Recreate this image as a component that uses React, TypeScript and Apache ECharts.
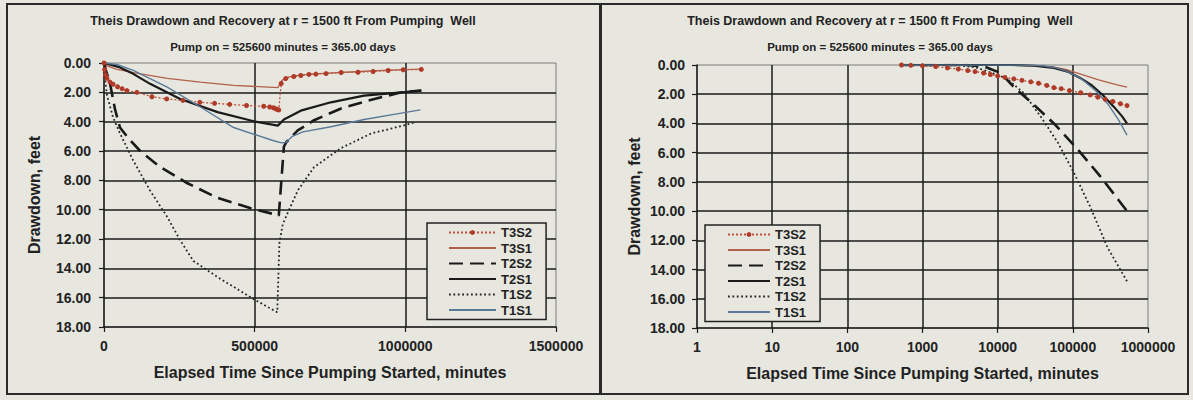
import React, { useEffect, useRef } from "react";
import * as echarts from "echarts";

const FONT = "'Liberation Sans', Arial, sans-serif";

const seriesNames = ["T3S2", "T3S1", "T2S2", "T2S1", "T1S2", "T1S1"];
const titleText = "Theis Drawdown and Recovery at r = 1500 ft From Pumping  Well";
const subtitleText = "Pump on = 525600 minutes = 365.00 days";
const xAxisTitle = "Elapsed Time Since Pumping Started, minutes";
const yAxisTitle = "Drawdown, feet";

// Left chart (linear time, minutes) : [time, drawdown ft]
const linT3S2: [number, number][] = [
  [0, 0], [2000, 0.45], [5000, 0.8], [10000, 1.05], [20000, 1.3], [30000, 1.45], [45000, 1.62],
  [60000, 1.75], [76000, 1.88], [109000, 2.0], [159000, 2.3], [208000, 2.45], [262000, 2.55],
  [318000, 2.68], [367000, 2.75], [417000, 2.82], [473000, 2.9], [530000, 2.95], [550000, 3.0],
  [562000, 3.05], [570000, 3.12], [576000, 3.18], [580000, 3.2], [588000, 1.4], [603000, 1.06],
  [630000, 0.92], [653000, 0.85], [680000, 0.78], [703000, 0.76], [737000, 0.72], [787000, 0.65],
  [843000, 0.63], [893000, 0.58], [943000, 0.51], [993000, 0.46], [1053000, 0.44],
];
const linT3S1: [number, number][] = [
  [0, 0], [10000, 0.2], [40000, 0.42], [97000, 0.65], [210000, 1.05], [320000, 1.3], [430000, 1.52],
  [577000, 1.68], [590000, 1.2], [605000, 0.98], [650000, 0.82], [700000, 0.74], [800000, 0.63],
  [900000, 0.53], [1000000, 0.45], [1053000, 0.42],
];
const linT2S2: [number, number][] = [
  [0, 0], [8000, 0.6], [20000, 1.4], [37000, 3.2], [53000, 4.4], [80000, 5.1], [120000, 6.0],
  [187000, 7.1], [277000, 8.2], [377000, 9.2], [487000, 9.9], [563000, 10.3], [580000, 10.4],
  [597000, 5.7], [605000, 5.4], [643000, 4.6], [697000, 3.9], [787000, 3.1], [897000, 2.45],
  [987000, 2.0], [1053000, 1.88],
];
const linT2S1: [number, number][] = [
  [0, 0], [53000, 0.3], [97000, 0.74], [153000, 1.42], [253000, 2.45], [377000, 3.35], [497000, 3.97],
  [577000, 4.27], [597000, 3.85], [653000, 3.25], [753000, 2.68], [863000, 2.22], [987000, 2.0],
  [1053000, 1.88],
];
const linT1S2: [number, number][] = [
  [0, 0], [3000, 1.0], [10000, 2.2], [30000, 3.7], [53000, 4.8], [97000, 6.65], [153000, 8.7],
  [210000, 10.5], [253000, 12.1], [297000, 13.5], [377000, 14.6], [497000, 16.1], [575000, 17.0],
  [582000, 12.3], [593000, 11.0], [610000, 10.2], [643000, 8.7], [697000, 7.1], [787000, 5.8],
  [887000, 4.8], [987000, 4.3], [1030000, 4.05],
];
const linT1S1: [number, number][] = [
  [0, 0], [43000, 0.1], [97000, 0.5], [210000, 1.65], [320000, 3.0], [430000, 4.4], [563000, 5.3],
  [590000, 5.45], [605000, 5.4], [625000, 5.0], [660000, 4.7], [753000, 4.35], [863000, 3.85],
  [977000, 3.45], [1050000, 3.2],
];

// Right chart (log time, minutes) : [time, drawdown ft]
const logT3S2: [number, number][] = [
  [525.6, 0], [700, 0.02], [1000, 0.05], [1500, 0.1], [2150, 0.2], [3000, 0.28], [4000, 0.38],
  [5000, 0.45], [6500, 0.55], [8000, 0.65], [10000, 0.75], [12500, 0.85], [16400, 0.95],
  [21000, 1.05], [27600, 1.15], [35000, 1.25], [45000, 1.4], [56000, 1.55], [70000, 1.62],
  [90000, 1.75], [127000, 1.9], [170000, 2.05], [215000, 2.2], [270000, 2.35], [340000, 2.5],
  [430000, 2.65], [525600, 2.78],
];
const logT3S1: [number, number][] = [
  [525.6, 0], [10000, 0], [20000, 0.02], [35000, 0.06], [56000, 0.15], [80000, 0.3], [100000, 0.45],
  [150000, 0.75], [215000, 1.0], [300000, 1.2], [400000, 1.38], [525600, 1.52],
];
const logT2S2: [number, number][] = [
  [525.6, 0], [4000, 0], [7000, 0.15], [11000, 0.55], [16400, 1.5], [30000, 2.7], [56000, 4.0],
  [117000, 5.8], [222000, 7.5], [400000, 9.2], [525600, 10.0],
];
const logT2S1: [number, number][] = [
  [525.6, 0], [15000, 0], [30000, 0.05], [56000, 0.2], [85000, 0.45], [127000, 0.9], [180000, 1.4],
  [250000, 2.05], [350000, 2.85], [450000, 3.5], [525600, 4.0],
];
const logT1S2: [number, number][] = [
  [525.6, 0], [3000, 0.02], [5000, 0.15], [8000, 0.5], [13000, 0.9], [22000, 1.9], [37000, 3.5],
  [63000, 5.3], [104000, 7.4], [170000, 9.7], [290000, 12.5], [525600, 14.8],
];
const logT1S1: [number, number][] = [
  [525.6, 0], [20000, 0], [40000, 0.05], [60000, 0.2], [85000, 0.45], [127000, 0.9], [200000, 1.75],
  [290000, 2.65], [400000, 3.7], [525600, 4.8],
];

const linData = [linT3S2, linT3S1, linT2S2, linT2S1, linT1S2, linT1S1];
const logData = [logT3S2, logT3S1, logT2S2, logT2S1, logT1S2, logT1S1];

const styles: Record<string, any> = {
  T3S2: { lineStyle: { color: "#c0503a", width: 1.3, type: [2, 2] }, symbol: "circle", symbolSize: 5, itemStyle: { color: "#b03a28" } },
  T3S1: { lineStyle: { color: "#b3604a", width: 1.3 }, symbol: "none", itemStyle: { color: "#b3604a" } },
  T2S2: { lineStyle: { color: "#1a1a1a", width: 2.6, type: [14, 7] }, symbol: "none", itemStyle: { color: "#1a1a1a" } },
  T2S1: { lineStyle: { color: "#1a1a1a", width: 2.2 }, symbol: "none", itemStyle: { color: "#1a1a1a" } },
  T1S2: { lineStyle: { color: "#262626", width: 1.8, type: [1.8, 2.6] }, symbol: "none", itemStyle: { color: "#262626" } },
  T1S1: { lineStyle: { color: "#5a7a98", width: 1.4 }, symbol: "none", itemStyle: { color: "#5a7a98" } },
};

const TXT = "#222222";
const GRID_LINE = "#1a1a1a";

function yAxisCfg(gridIndex: number, margin: number, nameGap: number) {
  return {
    type: "value",
    gridIndex,
    inverse: true,
    min: 0,
    max: 18,
    interval: 2,
    name: yAxisTitle,
    nameLocation: "middle",
    nameRotate: 90,
    nameGap,
    nameTextStyle: { fontFamily: FONT, fontSize: 16, fontWeight: "bold", color: TXT },
    axisLine: { show: true, onZero: false, lineStyle: { color: GRID_LINE, width: 1.5 } },
    axisTick: { show: true, length: 5, lineStyle: { color: GRID_LINE, width: 1.2 } },
    axisLabel: { fontFamily: FONT, fontSize: 14, fontWeight: "bold", color: TXT, margin, formatter: (v: number) => v.toFixed(2) },
    splitLine: { show: true, showMinLine: false, showMaxLine: false, lineStyle: { color: GRID_LINE, width: 1.5 } },
  };
}

function xCommon() {
  return {
    name: xAxisTitle,
    nameLocation: "middle",
    nameGap: 37,
    nameTextStyle: { fontFamily: FONT, fontSize: 16, fontWeight: "bold", color: TXT },
    axisLine: { show: true, onZero: false, lineStyle: { color: GRID_LINE, width: 1.5 } },
    axisTick: { show: true, length: 5, lineStyle: { color: GRID_LINE, width: 1.2 } },
    axisLabel: { fontFamily: FONT, fontSize: 14, fontWeight: "bold", color: TXT, margin: 12, formatter: (v: number) => String(Math.round(v)) },
    splitLine: { show: true, showMinLine: false, showMaxLine: false, lineStyle: { color: GRID_LINE, width: 1.5 } },
  };
}

function legendCfg(left: number, top: number, itemWidth: number, padLeft: number) {
  return {
    left,
    top,
    orient: "vertical",
    itemWidth,
    itemHeight: 6,
    itemGap: 2.5,
    padding: [3, 14, 3, padLeft],
    borderColor: "#222",
    borderWidth: 1.5,
    borderRadius: 0,
    backgroundColor: "#e7e7e0",
    selectedMode: false,
    textStyle: { fontFamily: FONT, fontSize: 13, lineHeight: 13, fontWeight: "bold", color: TXT },
    data: seriesNames.map((n) =>
      n === "T3S2"
        ? { name: n }
        : { name: n, itemStyle: { color: "rgba(0,0,0,0)", borderColor: "rgba(0,0,0,0)", borderWidth: 0 } }
    ),
  };
}

function titleTexts(cx: number) {
  return [
    { type: "text", x: cx, y: 21, silent: true, style: { text: titleText, align: "center", verticalAlign: "middle", fontFamily: FONT, fontSize: 12.5, fontWeight: "bold", fill: TXT } },
    { type: "text", x: cx, y: 47, silent: true, style: { text: subtitleText, align: "center", verticalAlign: "middle", fontFamily: FONT, fontSize: 11.5, fontWeight: "bold", fill: TXT } },
  ];
}

export default function App() {
  const ref = useRef<HTMLDivElement>(null);
  useEffect(() => {
    if (!ref.current) return;
    const chart = echarts.init(ref.current, null, { renderer: "svg" });
    const series: any[] = [];
    seriesNames.forEach((n, i) => {
      series.push({ type: "line", name: n, xAxisIndex: 0, yAxisIndex: 0, data: linData[i], ...styles[n], showSymbol: n === "T3S2" });
    });
    seriesNames.forEach((n, i) => {
      series.push({ type: "line", name: n, xAxisIndex: 1, yAxisIndex: 1, data: logData[i], ...styles[n], showSymbol: n === "T3S2" });
    });
    chart.setOption({
      animation: false,
      backgroundColor: "#e7e7e0",
      textStyle: { fontFamily: FONT },
      grid: [
        { left: 104, top: 63, width: 452, height: 264, show: true, borderColor: "#7a7a7a", borderWidth: 1, backgroundColor: "transparent" },
        { left: 697, top: 65, width: 451, height: 263, show: true, borderColor: "#7a7a7a", borderWidth: 1, backgroundColor: "transparent" },
      ],
      xAxis: [
        { type: "value", gridIndex: 0, min: 0, max: 1500000, interval: 500000, ...xCommon() },
        { type: "log", gridIndex: 1, min: 1, max: 1000000, logBase: 10, ...xCommon(), minorTick: { show: false }, minorSplitLine: { show: false } },
      ],
      yAxis: [yAxisCfg(0, 13, 62), yAxisCfg(1, 12, 55)],
      legend: [legendCfg(427, 223, 47, 21), legendCfg(705, 225, 42, 22)],
      graphic: [
        { type: "rect", silent: true, shape: { x: 7, y: 4, width: 593, height: 390 }, style: { fill: "none", stroke: "#2a2a2a", lineWidth: 2 } },
        { type: "rect", silent: true, shape: { x: 601, y: 4, width: 587, height: 390 }, style: { fill: "none", stroke: "#2a2a2a", lineWidth: 2 } },
        ...titleTexts(283),
        ...titleTexts(880),
      ],
      series,
    });
    return () => chart.dispose();
  }, []);
  return <div ref={ref} style={{ position: "fixed", left: 0, top: 0, width: 1193, height: 400 }} />;
}
